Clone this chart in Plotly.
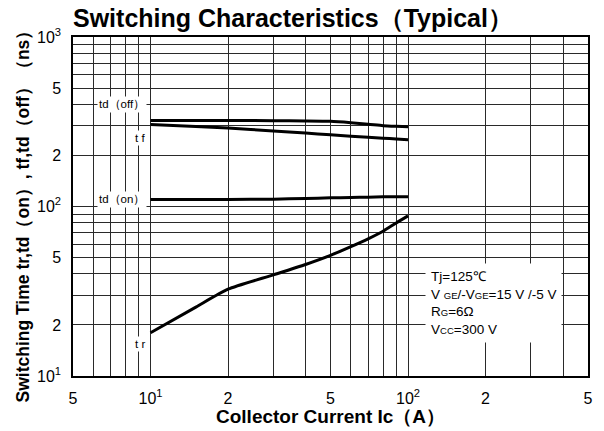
import math
import plotly.graph_objects as go

# Collector current (A) and switching times (ns), Tj = 125 degC
ic_a = [10, 15, 20, 30, 40, 50, 60, 70, 80, 90, 100]
t_d_off = [322, 322, 322, 321, 320, 318, 312, 306, 300, 297, 295]
t_f = [305, 296, 290, 279, 271, 265, 260, 256, 253, 250, 248]
t_d_on = [110, 110, 110, 110.5, 111.5, 112.5, 113, 113.5, 114, 114, 114]
t_r = [18, 25.5, 32.5, 39.5, 45.5, 51.5, 58, 64.5, 71.5, 80, 88]

series_names = ["td（off）", "t f", "td（on）", "t r"]
series_values = [t_d_off, t_f, t_d_on, t_r]
# y position (ns) of each curve label, placed just left of Ic = 10 A
label_y = [400, 252, 110, 15.4]

# grid positions and tick labels
x_grid = [5, 6, 7, 8, 9, 10, 20, 30, 40, 50, 60, 70, 80, 90, 100, 200, 300, 400, 500]
x_text = ["5", "", "", "", "", "10<sup>1</sup>", "2", "", "", "5", "", "", "", "",
          "10<sup>2</sup>", "2", "", "", "5"]
y_grid = [10, 20, 30, 40, 50, 60, 70, 80, 90, 100, 200, 300, 400, 500, 600, 700, 800, 900, 1000]
y_text = ["10<sup>1</sup>", "2", "", "", "5", "", "", "", "", "10<sup>2</sup>", "2", "", "",
          "5", "", "", "", "", "10<sup>3</sup>"]

SMALL = "<span style='font-size:9.5px'>{}</span>"
conditions = [
    "Tj=125℃",
    "V " + SMALL.format("GE") + "/-V" + SMALL.format("GE") + "=15 V /-5 V",
    "R" + SMALL.format("G") + "=6Ω",
    "V" + SMALL.format("CC") + "=300 V",
]
cond_x, cond_y = 116, 27  # left edge / vertical centre of the conditions block (A, ns)

FONT = "Liberation Sans, Arial, sans-serif"

fig = go.Figure()
for name, vals in zip(series_names, series_values):
    fig.add_trace(go.Scatter(x=ic_a, y=vals, mode="lines", name=name,
                             line=dict(color="black", width=3, shape="spline", smoothing=0.6),
                             showlegend=False))

axis_common = dict(
    type="log", showline=True, linecolor="black", linewidth=1.5, mirror=True,
    showgrid=True, gridcolor="#2a2a2a", gridwidth=1, ticks="", zeroline=False,
    tickfont=dict(family=FONT, size=16, color="black"), ticklabelstandoff=7,
)
fig.update_xaxes(range=[math.log10(5), math.log10(500)], tickmode="array",
                 tickvals=x_grid, ticktext=x_text, **axis_common)
fig.update_yaxes(range=[1, 3], tickmode="array", tickvals=y_grid, ticktext=y_text,
                 **axis_common)

annotations = []
for name, ly in zip(series_names, label_y):
    annotations.append(dict(x=math.log10(ic_a[0]), y=math.log10(ly), xref="x", yref="y",
                            text=name, showarrow=False,
                            xanchor="right", yanchor="middle", xshift=-4,
                            bgcolor="white", borderpad=1,
                            font=dict(family=FONT, size=11.5, color="black")))
annotations.append(dict(x=math.log10(cond_x), y=math.log10(cond_y), xref="x", yref="y",
                        text="<br>".join(conditions),
                        showarrow=False, xanchor="left", yanchor="middle", align="left",
                        bgcolor="white", borderpad=5,
                        font=dict(family=FONT, size=13.5, color="black")))
annotations.append(dict(x=0.5, y=0, xref="paper", yref="paper",
                        text="<b>Collector Current Ic（A）</b>",
                        showarrow=False, xanchor="center", yanchor="middle", yshift=-40,
                        font=dict(family=FONT, size=19, color="black")))
annotations.append(dict(x=0, y=0.5, xref="paper", yref="paper",
                        text="<b>Switching Time tr,td（on）, tf,td（off）（ns）</b>",
                        showarrow=False, textangle=-90, xanchor="center", yanchor="middle",
                        xshift=-51, yshift=-6,
                        font=dict(family=FONT, size=17.5, color="black")))

fig.update_layout(
    width=604, height=431,
    margin=dict(l=73, r=16, t=37, b=55),
    paper_bgcolor="white", plot_bgcolor="white",
    title=dict(text="<b>Switching Characteristics（Typical）</b>", x=73 / 604, xanchor="left",
               xref="container", y=1 - 18 / 431, yanchor="middle", yref="container",
               font=dict(family=FONT, size=25, color="black")),
    annotations=annotations,
)

fig.write_html("out.html")
